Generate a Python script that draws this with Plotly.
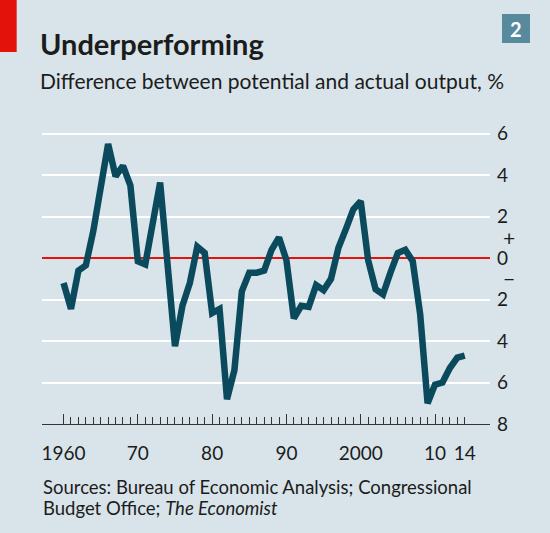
import plotly.graph_objects as go

years = list(range(1960, 2015))
gap = [-1.2, -2.45, -0.6, -0.35, 1.3, 3.4, 5.5, 3.95, 4.45, 3.5,
       -0.15, -0.3, 1.6, 3.65, -0.3, -4.25, -2.3, -1.2, 0.55, 0.25,
       -2.65, -2.45, -6.8, -5.4, -1.6, -0.7, -0.7, -0.6, 0.4, 1.0,
       -0.1, -2.9, -2.3, -2.35, -1.3, -1.55, -1.0, 0.5, 1.4, 2.35,
       2.75, -0.1, -1.5, -1.75, -0.7, 0.25, 0.4, -0.15, -2.7, -7.0,
       -6.1, -6.0, -5.3, -4.8, -4.7]

x_labels = {1960: "1960", 1970: "70", 1980: "80", 1990: "90", 2000: "2000", 2010: "10", 2014: "14"}
decades = [1960, 1970, 1980, 1990, 2000, 2010]
y_tickvals = [-8, -6, -4, -2, 0, 2, 4, 6]
y_ticktext = ["8", "6", "4", "2", "0", "2", "4", "6"]

BG = "#d8e4ea"
LINE = "#0b4a5d"
RED = "#e3120b"
TXT = "#1c1c1c"
FONT = "Lato"

fig = go.Figure()
fig.add_trace(go.Scatter(x=years, y=gap, mode="lines",
                         line=dict(color=LINE, width=6.5), hoverinfo="skip"))

fig.update_layout(
    width=550, height=533,
    margin=dict(l=42, r=60, t=113, b=109),
    paper_bgcolor=BG, plot_bgcolor=BG,
    showlegend=False,
    font=dict(family=FONT, color=TXT),
    xaxis=dict(
        range=[1957.1, 2017.4],
        tickmode="array",
        tickvals=years,
        ticktext=[x_labels.get(y, "") for y in years],
        ticks="inside", ticklen=7, tickwidth=1, tickcolor="#333333",
        minor=dict(tickmode="array", tickvals=decades, ticklen=10,
                   tickwidth=1, tickcolor="#333333", ticks="inside"),
        showline=True, linecolor="#333333", linewidth=1,
        showgrid=False, zeroline=False,
        tickfont=dict(size=19, color=TXT, family=FONT),
        ticklabelstandoff=12,
    ),
    yaxis=dict(
        range=[-8, 7],
        side="right",
        tickmode="array", tickvals=y_tickvals, ticktext=y_ticktext,
        ticks="", showgrid=True, gridcolor="white", gridwidth=2,
        zeroline=True, zerolinecolor=RED, zerolinewidth=1.5,
        showline=False,
        tickfont=dict(size=19, color=TXT, family=FONT),
        ticklabelstandoff=6,
    ),
)

ann = [
    dict(text="<b>Underperforming</b>", x=-0.009, y=1.225, xref="paper", yref="paper",
         xanchor="left", yanchor="middle", showarrow=False,
         font=dict(size=29, color=TXT, family=FONT)),
    dict(text="Difference between potential and actual output, %", x=-0.009, y=1.106,
         xref="paper", yref="paper", xanchor="left", yanchor="middle", showarrow=False,
         font=dict(size=21, color=TXT, family=FONT)),
    dict(text="<b>2</b>", x=1.058, y=1.2717, xref="paper", yref="paper",
         xanchor="center", yanchor="middle", showarrow=False,
         font=dict(size=20, color="white", family=FONT)),
    dict(text="+", x=1.025, y=1, xref="paper", yref="y", xanchor="left", yanchor="middle",
         showarrow=False, font=dict(size=21, color=TXT, family=FONT)),
    dict(text="\u2212", x=1.025, y=-1, xref="paper", yref="y", xanchor="left", yanchor="middle",
         showarrow=False, font=dict(size=21, color=TXT, family=FONT)),
    dict(text="Sources: Bureau of Economic Analysis; Congressional", x=-0.002, y=-0.2026,
         xref="paper", yref="paper", xanchor="left", yanchor="middle", showarrow=False,
         font=dict(size=18.5, color=TXT, family=FONT)),
    dict(text="Budget Office; <i>The Economist</i>", x=-0.002, y=-0.270,
         xref="paper", yref="paper", xanchor="left", yanchor="middle", showarrow=False,
         font=dict(size=18.5, color=TXT, family=FONT)),
]
fig.update_layout(annotations=ann)

fig.add_shape(type="rect", xref="paper", yref="paper",
              x0=-0.0938, x1=-0.0565, y0=1.196, y1=1.3633,
              fillcolor=RED, line=dict(width=0), layer="above")
fig.add_shape(type="rect", xref="paper", yref="paper",
              x0=1.0268, x1=1.0893, y0=1.2251, y1=1.3183,
              fillcolor="#588a9e", line=dict(width=0), layer="below")

fig.write_html("out.html", config={"displayModeBar": False},
               post_script="document.body.style.margin='0';document.body.style.overflow='hidden';")
